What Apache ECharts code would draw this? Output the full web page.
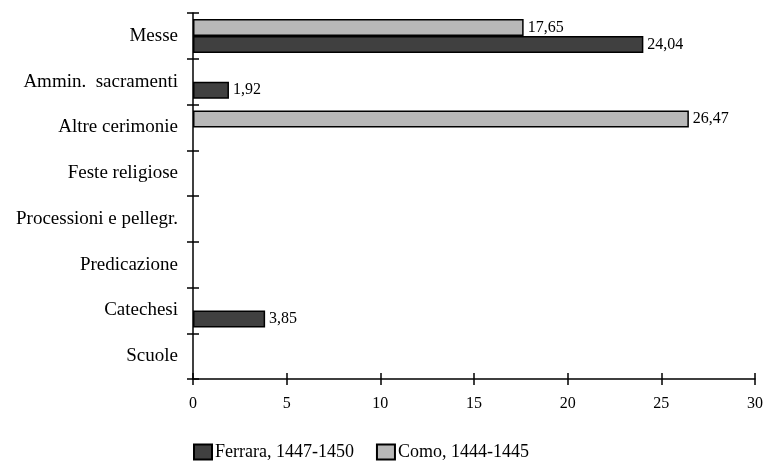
<!DOCTYPE html>
<html><head><meta charset="utf-8">
<script src="https://cdn.jsdelivr.net/npm/echarts@6/dist/echarts.min.js"></script>
<style>html,body{margin:0;padding:0;background:#fff}#c{width:766px;height:465px}</style>
</head><body><div id="c"></div>
<script>
const categories = ['Messe','Ammin.  sacramenti','Altre cerimonie','Feste religiose','Processioni e pellegr.','Predicazione','Catechesi','Scuole'];
const ferrara = [24.04, 1.92, null, null, null, null, 3.85, null];
const como = [17.65, null, 26.47, null, null, null, null, null];
const xTicks = [0, 5, 10, 15, 20, 25, 30];
const seriesNames = ['Ferrara, 1447-1450', 'Como, 1444-1445'];

const serif = '"Liberation Serif", "DejaVu Serif", serif';
const chart = echarts.init(document.getElementById('c'), null, {renderer: 'canvas'});
const lbl = {show: true, position: 'right', distance: 4, color: '#000', fontFamily: serif, fontSize: 16,
  formatter: p => p.value == null ? '' : p.value.toFixed(2).replace('.', ',')};
chart.setOption({
  animation: false,
  textStyle: {fontFamily: serif},
  grid: [{left: 193, right: 9, top: 13, bottom: 86}],
  legend: {top: 443, left: 193, padding: 0, itemWidth: 18, itemHeight: 15, itemGap: 22, icon: 'rect',
    textStyle: {fontFamily: serif, fontSize: 18, color: '#000', padding: [0, 0, 0, -2]},
    data: [seriesNames[0], seriesNames[1]]},
  xAxis: [
    {type: 'value', min: xTicks[0], max: xTicks[xTicks.length-1], interval: 5,
     axisLine: {show: true, lineStyle: {color: '#000', width: 1.5}},
     axisTick: {show: true, length: 6, lineStyle: {color: '#000', width: 1.5}},
     axisLabel: {margin: 17, color: '#000', fontFamily: serif, fontSize: 16},
     splitLine: {show: false}},
    {type: 'value', min: xTicks[0], max: xTicks[xTicks.length-1], interval: 5, position: 'bottom',
     axisLine: {show: false}, axisTick: {show: true, inside: true, length: 6, lineStyle: {color: '#000', width: 1.5}},
     axisLabel: {show: false}, splitLine: {show: false}}
  ],
  yAxis: [
    {type: 'category', data: categories, inverse: true,
     axisLine: {show: true, lineStyle: {color: '#000', width: 1.5}},
     axisTick: {show: true, length: 6, lineStyle: {color: '#000', width: 1.5}},
     axisLabel: {margin: 15, color: '#000', fontFamily: serif, fontSize: 19}},
    {type: 'category', data: categories, inverse: true, position: 'left',
     axisLine: {show: false}, axisTick: {show: true, inside: true, length: 6, lineStyle: {color: '#000', width: 1.5}},
     axisLabel: {show: false}}
  ],
  series: [
    {name: seriesNames[1], type: 'bar', data: como, barWidth: 17, barGap: '0%',
     itemStyle: {color: '#b8b8b8', borderColor: '#000', borderWidth: 1.5}, label: lbl},
    {name: seriesNames[0], type: 'bar', data: ferrara, barWidth: 17, barGap: '0%',
     itemStyle: {color: '#404040', borderColor: '#000', borderWidth: 1.5}, label: lbl}
  ]
});
</script></body></html>
